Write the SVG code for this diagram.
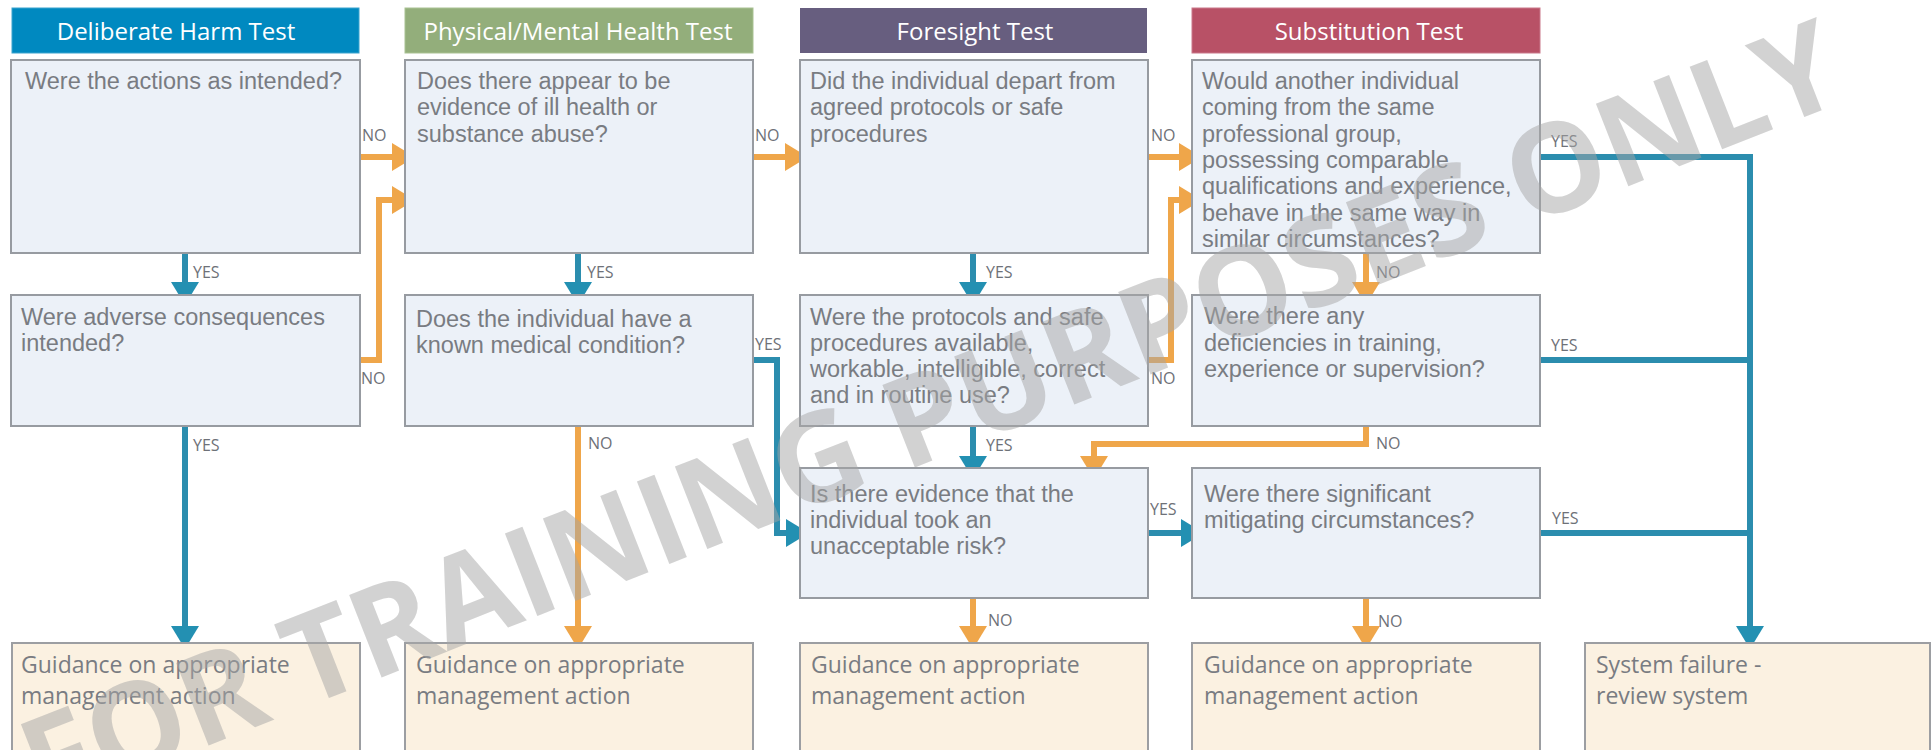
<svg xmlns="http://www.w3.org/2000/svg" width="1932" height="750" viewBox="0 0 1932 750">
<style>
.hdr{stroke-width:1}
.htxt{font-family:"Open Sans","Noto Sans",sans-serif;font-size:24px;fill:#ffffff;text-anchor:middle}
.q{fill:#ECF1F8;stroke:#979BA1;stroke-width:2}
.qt{font-family:"Liberation Sans",Arial,sans-serif;font-size:23.5px;fill:#797C82}
.out{fill:#FBF1E1;stroke:#9C9EA2;stroke-width:2}
.ot{font-family:"Open Sans","Noto Sans",sans-serif;font-size:23px;fill:#797C82}
.wo{fill:none;stroke:#EFA64A;stroke-width:6;stroke-linejoin:miter}
.wb{fill:none;stroke:#2B8DAE;stroke-width:6;stroke-linejoin:miter}
.lbl{font-family:"Open Sans","Noto Sans",sans-serif;font-size:16px;fill:#6E7178}
.wm{font-family:"Open Sans","Liberation Sans",sans-serif;font-weight:700;font-size:124px;fill:#A6A6A6;fill-opacity:0.5;text-anchor:middle}
</style>
<defs>
<marker id="ao" markerUnits="userSpaceOnUse" markerWidth="24" markerHeight="28" viewBox="0 0 24 28" refX="1" refY="14" orient="auto"><path d="M0,0 L23,14 L0,28 Z" fill="#EFA64A"/></marker>
<marker id="ab" markerUnits="userSpaceOnUse" markerWidth="24" markerHeight="28" viewBox="0 0 24 28" refX="1" refY="14" orient="auto"><path d="M0,0 L23,14 L0,28 Z" fill="#2390B2"/></marker>
</defs>

<g id="headers">
<g id="h1"><rect x="12" y="8" width="347" height="45" fill="#0089C0" stroke="#3AA3CE"/><text class="htxt" x="176" y="40">Deliberate Harm Test</text></g>
<g id="h2"><rect x="405" y="8" width="348" height="45" fill="#93AE7B" stroke="#A9C293"/><text class="htxt" x="578" y="40">Physical/Mental Health Test</text></g>
<g id="h3"><rect x="800" y="8" width="347" height="45" fill="#675E7F"/><text class="htxt" x="975" y="40">Foresight Test</text></g>
<g id="h4"><rect x="1192" y="8" width="348" height="45" fill="#B85166" stroke="#C9788A"/><text class="htxt" x="1369" y="40">Substitution Test</text></g>
</g>

<g id="connectors">
<path class="wo" d="M360,157 H393" marker-end="url(#ao)"/>
<path class="wo" d="M360,360 H379 V200 H393" marker-end="url(#ao)"/>
<path class="wb" d="M185,253 V283" marker-end="url(#ab)"/>
<path class="wb" d="M185,426 V627" marker-end="url(#ab)"/>
<path class="wb" d="M578,253 V283" marker-end="url(#ab)"/>
<path class="wo" d="M578,426 V627" marker-end="url(#ao)"/>
<path class="wb" d="M753,360 H777 V533 H787" marker-end="url(#ab)"/>
<path class="wo" d="M753,157 H786" marker-end="url(#ao)"/>
<path class="wb" d="M973,253 V283" marker-end="url(#ab)"/>
<path class="wb" d="M973,426 V457" marker-end="url(#ab)"/>
<path class="wo" d="M1148,360 H1171 V200 H1180" marker-end="url(#ao)"/>
<path class="wo" d="M1148,157 H1180" marker-end="url(#ao)"/>
<path class="wo" d="M1366,253 V283" marker-end="url(#ao)"/>
<path class="wo" d="M1366,426 V444 H1094 V457" marker-end="url(#ao)"/>
<path class="wb" d="M1148,533 H1182" marker-end="url(#ab)"/>
<path class="wo" d="M973,598 V627" marker-end="url(#ao)"/>
<path class="wo" d="M1366,598 V627" marker-end="url(#ao)"/>
<path class="wb" d="M1540,157 H1750 V627" marker-end="url(#ab)"/>
<path class="wb" d="M1540,360 H1750"/>
<path class="wb" d="M1540,533 H1750"/>
<text class="lbl" x="362" y="141">NO</text>
<text class="lbl" x="361" y="384">NO</text>
<text class="lbl" x="193" y="278">YES</text>
<text class="lbl" x="193" y="451">YES</text>
<text class="lbl" x="587" y="278">YES</text>
<text class="lbl" x="588" y="449">NO</text>
<text class="lbl" x="755" y="350">YES</text>
<text class="lbl" x="755" y="141">NO</text>
<text class="lbl" x="986" y="278">YES</text>
<text class="lbl" x="986" y="451">YES</text>
<text class="lbl" x="1151" y="384">NO</text>
<text class="lbl" x="1151" y="141">NO</text>
<text class="lbl" x="1376" y="278">NO</text>
<text class="lbl" x="1376" y="449">NO</text>
<text class="lbl" x="1150" y="515">YES</text>
<text class="lbl" x="988" y="626">NO</text>
<text class="lbl" x="1378" y="627">NO</text>
<text class="lbl" x="1551" y="147">YES</text>
<text class="lbl" x="1551" y="351">YES</text>
<text class="lbl" x="1552" y="524">YES</text>
</g>

<g id="n-c1r1"><rect class="q" x="11" y="60" width="349" height="193"/><text class="qt" x="25" y="89">Were the actions as intended?</text></g>
<g id="n-c1r2"><rect class="q" x="11" y="295" width="349" height="131"/><text class="qt" x="21" y="325">Were adverse consequences<tspan x="21" dy="26.3">intended?</tspan></text></g>
<g id="n-c2r1"><rect class="q" x="405" y="60" width="348" height="193"/><text class="qt" x="417" y="89">Does there appear to be<tspan x="417" dy="26.3">evidence of ill health or</tspan><tspan x="417" dy="26.3">substance abuse?</tspan></text></g>
<g id="n-c2r2"><rect class="q" x="405" y="295" width="348" height="131"/><text class="qt" x="416" y="327">Does the individual have a<tspan x="416" dy="26.3">known medical condition?</tspan></text></g>
<g id="n-c3r1"><rect class="q" x="800" y="60" width="348" height="193"/><text class="qt" x="810" y="89">Did the individual depart from<tspan x="810" dy="26.3">agreed protocols or safe</tspan><tspan x="810" dy="26.3">procedures</tspan></text></g>
<g id="n-c3r2"><rect class="q" x="800" y="295" width="348" height="131"/><text class="qt" x="810" y="325">Were the protocols and safe<tspan x="810" dy="26">procedures available,</tspan><tspan x="810" dy="26">workable, intelligible, correct</tspan><tspan x="810" dy="26">and in routine use?</tspan></text></g>
<g id="n-c3r3"><rect class="q" x="800" y="468" width="348" height="130"/><text class="qt" x="810" y="502">Is there evidence that the<tspan x="810" dy="26">individual took an</tspan><tspan x="810" dy="26">unacceptable risk?</tspan></text></g>
<g id="n-c4r1"><rect class="q" x="1192" y="60" width="348" height="193"/><text class="qt" x="1202" y="89">Would another individual<tspan x="1202" dy="26.3">coming from the same</tspan><tspan x="1202" dy="26.3">professional group,</tspan><tspan x="1202" dy="26.3">possessing comparable</tspan><tspan x="1202" dy="26.3">qualifications and experience,</tspan><tspan x="1202" dy="26.3">behave in the same way in</tspan><tspan x="1202" dy="26.3">similar circumstances?</tspan></text></g>
<g id="n-c4r2"><rect class="q" x="1192" y="295" width="348" height="131"/><text class="qt" x="1204" y="324">Were there any<tspan x="1204" dy="26.5">deficiencies in training,</tspan><tspan x="1204" dy="26.5">experience or supervision?</tspan></text></g>
<g id="n-c4r3"><rect class="q" x="1192" y="468" width="348" height="130"/><text class="qt" x="1204" y="502">Were there significant<tspan x="1204" dy="26">mitigating circumstances?</tspan></text></g>

<g id="o-c1"><rect class="out" x="12" y="643" width="348" height="120"/><text class="ot" x="21" y="673">Guidance on appropriate<tspan x="21" dy="31">management action</tspan></text></g>
<g id="o-c2"><rect class="out" x="405" y="643" width="348" height="120"/><text class="ot" x="416" y="673">Guidance on appropriate<tspan x="416" dy="31">management action</tspan></text></g>
<g id="o-c3"><rect class="out" x="800" y="643" width="348" height="120"/><text class="ot" x="811" y="673">Guidance on appropriate<tspan x="811" dy="31">management action</tspan></text></g>
<g id="o-c4"><rect class="out" x="1192" y="643" width="348" height="120"/><text class="ot" x="1204" y="673">Guidance on appropriate<tspan x="1204" dy="31">management action</tspan></text></g>
<g id="o-c5"><rect class="out" x="1585" y="643" width="345" height="120"/><text class="ot" x="1596" y="673">System failure -<tspan x="1596" dy="31">review system</tspan></text></g>

<g id="watermark"><text class="wm" transform="translate(946,455) rotate(-21.5)" x="0" y="0">FOR TRAINING PURPOSES ONLY</text></g>
</svg>
